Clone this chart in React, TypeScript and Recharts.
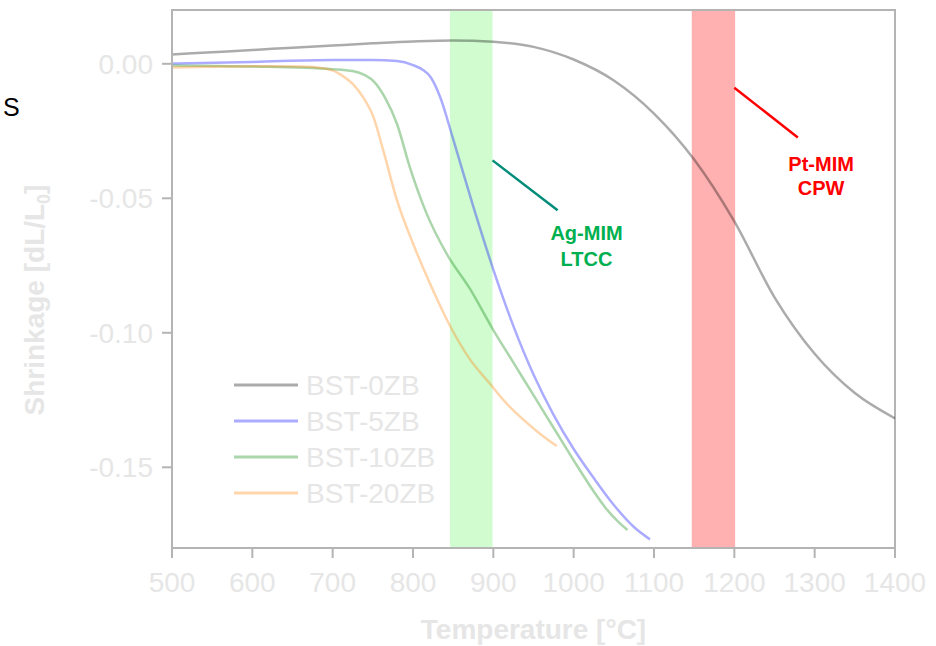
import React from 'react';
import {
  LineChart,
  Line,
  XAxis,
  YAxis,
  ReferenceArea,
  ReferenceLine,
  ReferenceDot,
  Legend,
} from 'recharts';

// ---------- data ----------
const xTicks = [500, 600, 700, 800, 900, 1000, 1100, 1200, 1300, 1400];
const yTicks = [0, -0.05, -0.1, -0.15];
const xDomain = [500, 1400];
const yDomain = [-0.18, 0.02];

const bst0T = [500, 550, 600, 650, 700, 750, 800, 850, 900, 950, 1000, 1050, 1100, 1150, 1200, 1250, 1300, 1350, 1400];
const bst0V = [0.0035, 0.0043, 0.0051, 0.006, 0.0068, 0.0076, 0.0083, 0.0087, 0.0082, 0.0063, 0.0016, -0.0062, -0.0185, -0.0356, -0.0586, -0.0868, -0.1078, -0.1224, -0.1318];

const bst5T = [500, 600, 700, 750, 780, 800, 812, 822, 834, 850, 875, 900, 925, 950, 975, 1000, 1025, 1050, 1075, 1095];
const bst5V = [0.0001, 0.0007, 0.0014, 0.0014, 0.001, -0.0005, -0.0022, -0.005, -0.0125, -0.028, -0.053, -0.0765, -0.0975, -0.1155, -0.1305, -0.1432, -0.154, -0.164, -0.1722, -0.1768];

const bst10T = [500, 600, 700, 725, 740, 752, 765, 780, 796, 817, 842, 871, 900, 925, 950, 975, 1000, 1025, 1040, 1055, 1067];
const bst10V = [-0.0006, -0.001, -0.002, -0.0027, -0.0042, -0.0068, -0.0125, -0.0223, -0.0384, -0.0557, -0.0707, -0.0837, -0.099, -0.1111, -0.1232, -0.1353, -0.1474, -0.159, -0.1652, -0.1701, -0.1733];

const bst20T = [500, 600, 660, 690, 710, 725, 738, 751, 763, 780, 800, 821, 848, 870, 896, 915, 937, 958, 979];
const bst20V = [-0.0014, -0.0009, -0.001, -0.0017, -0.004, -0.0075, -0.0125, -0.02, -0.0322, -0.0507, -0.0668, -0.0816, -0.0985, -0.1095, -0.119, -0.1258, -0.1322, -0.1375, -0.1421];

const seriesNames = ['BST-0ZB', 'BST-5ZB', 'BST-10ZB', 'BST-20ZB'];
const seriesColors = ['#000000', '#0000ff', '#008000', '#ff8000'];

// bands & annotations (data coordinates)
const agBand = [846, 899];
const ptBand = [1147, 1201];
const agLeader = [{ x: 899, y: -0.0359 }, { x: 980, y: -0.0544 }];
const ptLeader = [{ x: 1200, y: -0.0089 }, { x: 1279, y: -0.0274 }];
const agText = { x: 1016, y: -0.0656, lines: ['Ag-MIM', 'LTCC'] };
const ptText = { x: 1308, y: -0.0398, lines: ['Pt-MIM', 'CPW'] };

const toPts = (ts: number[], vs: number[]) => ts.map((t, i) => ({ t, v: vs[i] }));
const seriesData = [toPts(bst0T, bst0V), toPts(bst5T, bst5V), toPts(bst10T, bst10V), toPts(bst20T, bst20V)];

// ---------- style ----------
const FONT = '"Liberation Sans", Arial, Helvetica, sans-serif';
const LIGHT = '#e6e6e6';
const AXIS = '#b4b4b4';
const LINE_OPACITY = 0.33;

const annotation = (lines: string[], color: string, gap: number) => (props: any) => {
  const vb = props.viewBox || {};
  const x = (vb.x || 0) + (vb.width || 0) / 2;
  const y = vb.y || 0;
  return (
    <g>
      {lines.map((l, i) => (
        <text
          key={i}
          x={x}
          y={y + i * gap}
          textAnchor="middle"
          fontFamily={FONT}
          fontWeight="bold"
          fontSize={20}
          fill={color}
        >
          {l}
        </text>
      ))}
    </g>
  );
};

const LegendContent = () => (
  <svg width={240} height={145} style={{ overflow: 'visible', display: 'block' }}>
    {seriesNames.map((n, i) => {
      const cy = 18 + i * 36;
      return (
        <g key={n}>
          <line
            x1={0}
            x2={64}
            y1={cy}
            y2={cy}
            stroke={seriesColors[i]}
            strokeOpacity={LINE_OPACITY}
            strokeWidth={3}
          />
          <text x={72} y={cy + 10} fontFamily={FONT} fontSize={28} fill={LIGHT}>
            {n}
          </text>
        </g>
      );
    })}
  </svg>
);

const XTitle = (props: any) => {
  const vb = props.viewBox || {};
  return (
    <text
      x={vb.x + vb.width / 2}
      y={vb.y + 91}
      textAnchor="middle"
      fontFamily={FONT}
      fontWeight="bold"
      fontSize={28}
      fill={LIGHT}
    >
      Temperature [°C]
    </text>
  );
};

const YTitle = (props: any) => {
  const vb = props.viewBox || {};
  const x = 44;
  const y = vb.y + vb.height / 2 + 21;
  return (
    <text
      x={x}
      y={y}
      transform={`rotate(-90, ${x}, ${y})`}
      textAnchor="middle"
      fontFamily={FONT}
      fontWeight="bold"
      fontSize={28}
      fill={LIGHT}
    >
      Shrinkage [dL/L
      <tspan fontSize={18} dy={6}>0</tspan>
      <tspan dy={-6}>]</tspan>
    </text>
  );
};

export default function App() {
  return (
    <div style={{ position: 'absolute', left: 0, top: 0, width: 936, height: 646, background: '#fff' }}>
      <div
        style={{
          position: 'absolute',
          left: 3,
          top: 93,
          fontFamily: FONT,
          fontSize: 25,
          color: '#000',
          lineHeight: 'normal',
        }}
      >
        S
      </div>
      <LineChart
        width={936}
        height={646}
        margin={{ top: 10, right: 41, bottom: 0, left: 0 }}
        style={{ position: 'absolute', left: 0, top: 0 }}
      >
        <XAxis
          dataKey="t"
          type="number"
          domain={xDomain}
          ticks={xTicks}
          interval={0}
          height={98}
          allowDataOverflow
          stroke={AXIS}
          strokeWidth={2}
          tickSize={10}
          tickMargin={14}
          tick={{ fill: LIGHT, fontSize: 28, fontFamily: FONT }}
          label={{ content: XTitle }}
        />
        <YAxis
          type="number"
          domain={yDomain}
          ticks={yTicks}
          interval={0}
          width={172}
          allowDataOverflow
          stroke={AXIS}
          strokeWidth={2}
          tickSize={10}
          tickMargin={9}
          tickFormatter={(v: number) => v.toFixed(2)}
          tick={{ fill: LIGHT, fontSize: 28, fontFamily: FONT }}
          label={{ content: YTitle }}
        />
        <ReferenceArea x1={agBand[0]} x2={agBand[1]} y1={yDomain[0]} y2={yDomain[1]} fill="#d0fcd0" fillOpacity={1} stroke="none" />
        <ReferenceArea x1={ptBand[0]} x2={ptBand[1]} y1={yDomain[0]} y2={yDomain[1]} fill="#ffb0b0" fillOpacity={1} stroke="none" />
        {seriesData.map((d, i) => (
          <Line
            key={seriesNames[i]}
            data={d}
            dataKey="v"
            name={seriesNames[i]}
            type="monotone"
            stroke={seriesColors[i]}
            strokeOpacity={LINE_OPACITY}
            strokeWidth={2.5}
            dot={false}
            activeDot={false}
            isAnimationActive={false}
          />
        ))}
        <ReferenceArea
          x1={xDomain[0]}
          x2={xDomain[1]}
          y1={yDomain[0]}
          y2={yDomain[1]}
          fill="none"
          fillOpacity={0}
          stroke={AXIS}
          strokeWidth={2}
        />
        <ReferenceLine segment={agLeader} stroke="#008c78" strokeWidth={2.5} />
        <ReferenceLine segment={ptLeader} stroke="#ff0000" strokeWidth={2.5} />
        <ReferenceDot
          x={agText.x}
          y={agText.y}
          r={0}
          fill="none"
          stroke="none"
          label={{ content: annotation(agText.lines, '#00b050', 26) }}
        />
        <ReferenceDot
          x={ptText.x}
          y={ptText.y}
          r={0}
          fill="none"
          stroke="none"
          label={{ content: annotation(ptText.lines, '#ff0000', 24) }}
        />
        <Legend
          layout="vertical"
          verticalAlign="middle"
          align="center"
          content={LegendContent}
          wrapperStyle={{ position: 'absolute', left: 234, top: 367, width: 240, height: 145 }}
        />
      </LineChart>
    </div>
  );
}
